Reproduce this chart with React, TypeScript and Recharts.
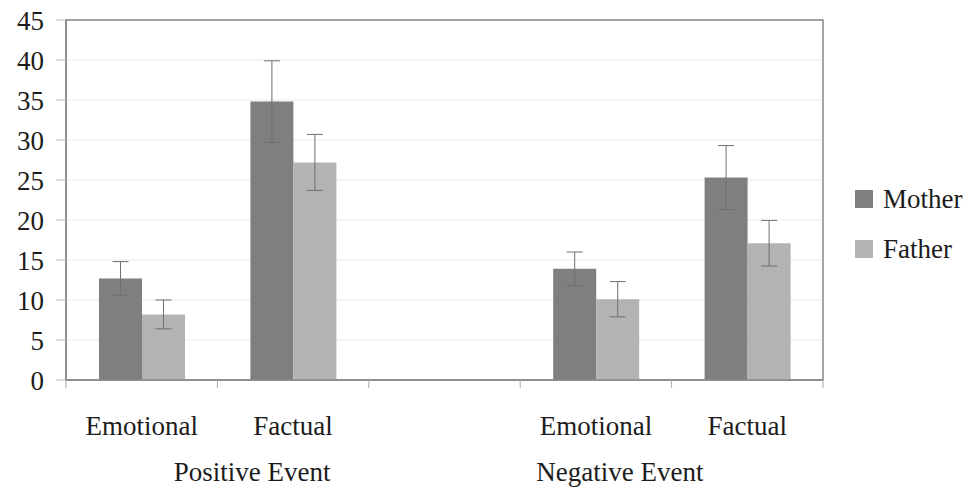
import React from "react";
import { BarChart, Bar, XAxis, YAxis, CartesianGrid, ErrorBar, Legend, ReferenceArea } from "recharts";

const categories = ["Emotional", "Factual", "", "Emotional", "Factual"];
const groupLabels = ["", "Positive Event", "", "Negative Event", ""];
const motherValues = [12.7, 34.8, null, 13.9, 25.3];
const fatherValues = [8.2, 27.2, null, 10.1, 17.1];
const motherErrors = [2.1, 5.1, null, 2.1, 4.0];
const fatherErrors = [1.8, 3.5, null, 2.2, 2.85];
const yTicks = [0, 5, 10, 15, 20, 25, 30, 35, 40, 45];

const data = categories.map((c, i) => ({
  key: `c${i}`,
  cat: c,
  group: groupLabels[i],
  mother: motherValues[i],
  father: fatherValues[i],
  motherErr: motherErrors[i],
  fatherErr: fatherErrors[i],
}));

const MOTHER = "#7f7f7f";
const FATHER = "#b3b3b3";
const FONT = "'Liberation Serif', 'Times New Roman', serif";
const TEXT = "#1c1c1c";
const GROUP_DX: Record<string, number> = { "Positive Event": -41, "Negative Event": 24 };

const XTick = (props: any) => {
  const { x, y, payload, index } = props;
  const item = data[index];
  const half = payload && payload.offset != null ? payload.offset : 75.7;
  const top = y - 8;
  return (
    <g>
      <line x1={x - half} y1={top} x2={x - half} y2={top + 8} stroke="#aaa" strokeWidth={1} />
      {index === data.length - 1 && (
        <line x1={x + half} y1={top} x2={x + half} y2={top + 8} stroke="#aaa" strokeWidth={1} />
      )}
      <text x={x} y={top + 55} textAnchor="middle" fontFamily={FONT} fontSize={27} fill={TEXT}>
        {item ? item.cat : ""}
      </text>
      {item && item.group && (
        <text
          x={x + (GROUP_DX[item.group] || 0)}
          y={top + 101}
          textAnchor="middle"
          fontFamily={FONT}
          fontSize={27}
          fill={TEXT}
        >
          {item.group}
        </text>
      )}
    </g>
  );
};

const renderLegend = () => (
  <div style={{ fontFamily: FONT, fontSize: 27, color: TEXT }}>
    {[
      { name: "Mother", color: MOTHER },
      { name: "Father", color: FATHER },
    ].map((it) => (
      <div key={it.name} style={{ display: "flex", alignItems: "center", height: 50 }}>
        <span style={{ display: "inline-block", width: 18, height: 18, background: it.color, marginRight: 10 }} />
        <span>{it.name}</span>
      </div>
    ))}
  </div>
);

export default function App() {
  return (
    <div style={{ position: "absolute", left: 0, top: 0, background: "#fff" }}>
      <BarChart
        width={977}
        height={494}
        data={data}
        margin={{ top: 20, right: 34, bottom: 0, left: 0 }}
        barSize={43}
        barGap={0}
      >
        <CartesianGrid vertical={false} stroke="#ebebeb" strokeWidth={1} />
        <ReferenceArea y1={0} y2={45} fill="none" stroke="#888" strokeWidth={1.5} ifOverflow="visible" />
        <XAxis
          dataKey="key"
          height={114}
          axisLine={{ stroke: "#888", strokeWidth: 1.5 }}
          tickLine={false}
          tick={<XTick />}
          interval={0}
        />
        <YAxis
          width={66}
          domain={[0, 45]}
          ticks={yTicks}
          interval={0}
          tickSize={10}
          tickMargin={12}
          axisLine={{ stroke: "#888", strokeWidth: 1.5 }}
          tickLine={{ stroke: "#bbb" }}
          tick={{ fontFamily: FONT, fontSize: 27, fill: TEXT }}
        />
        <Legend
          layout="vertical"
          align="right"
          verticalAlign="middle"
          content={renderLegend}
          wrapperStyle={{ left: 855, top: 174, width: 120 }}
        />
        <Bar dataKey="mother" name="Mother" fill={MOTHER} isAnimationActive={false}>
          <ErrorBar dataKey="motherErr" width={8} stroke="#6f6f6f" strokeWidth={1} direction="y" />
        </Bar>
        <Bar dataKey="father" name="Father" fill={FATHER} isAnimationActive={false}>
          <ErrorBar dataKey="fatherErr" width={8} stroke="#6f6f6f" strokeWidth={1} direction="y" />
        </Bar>
      </BarChart>
    </div>
  );
}
